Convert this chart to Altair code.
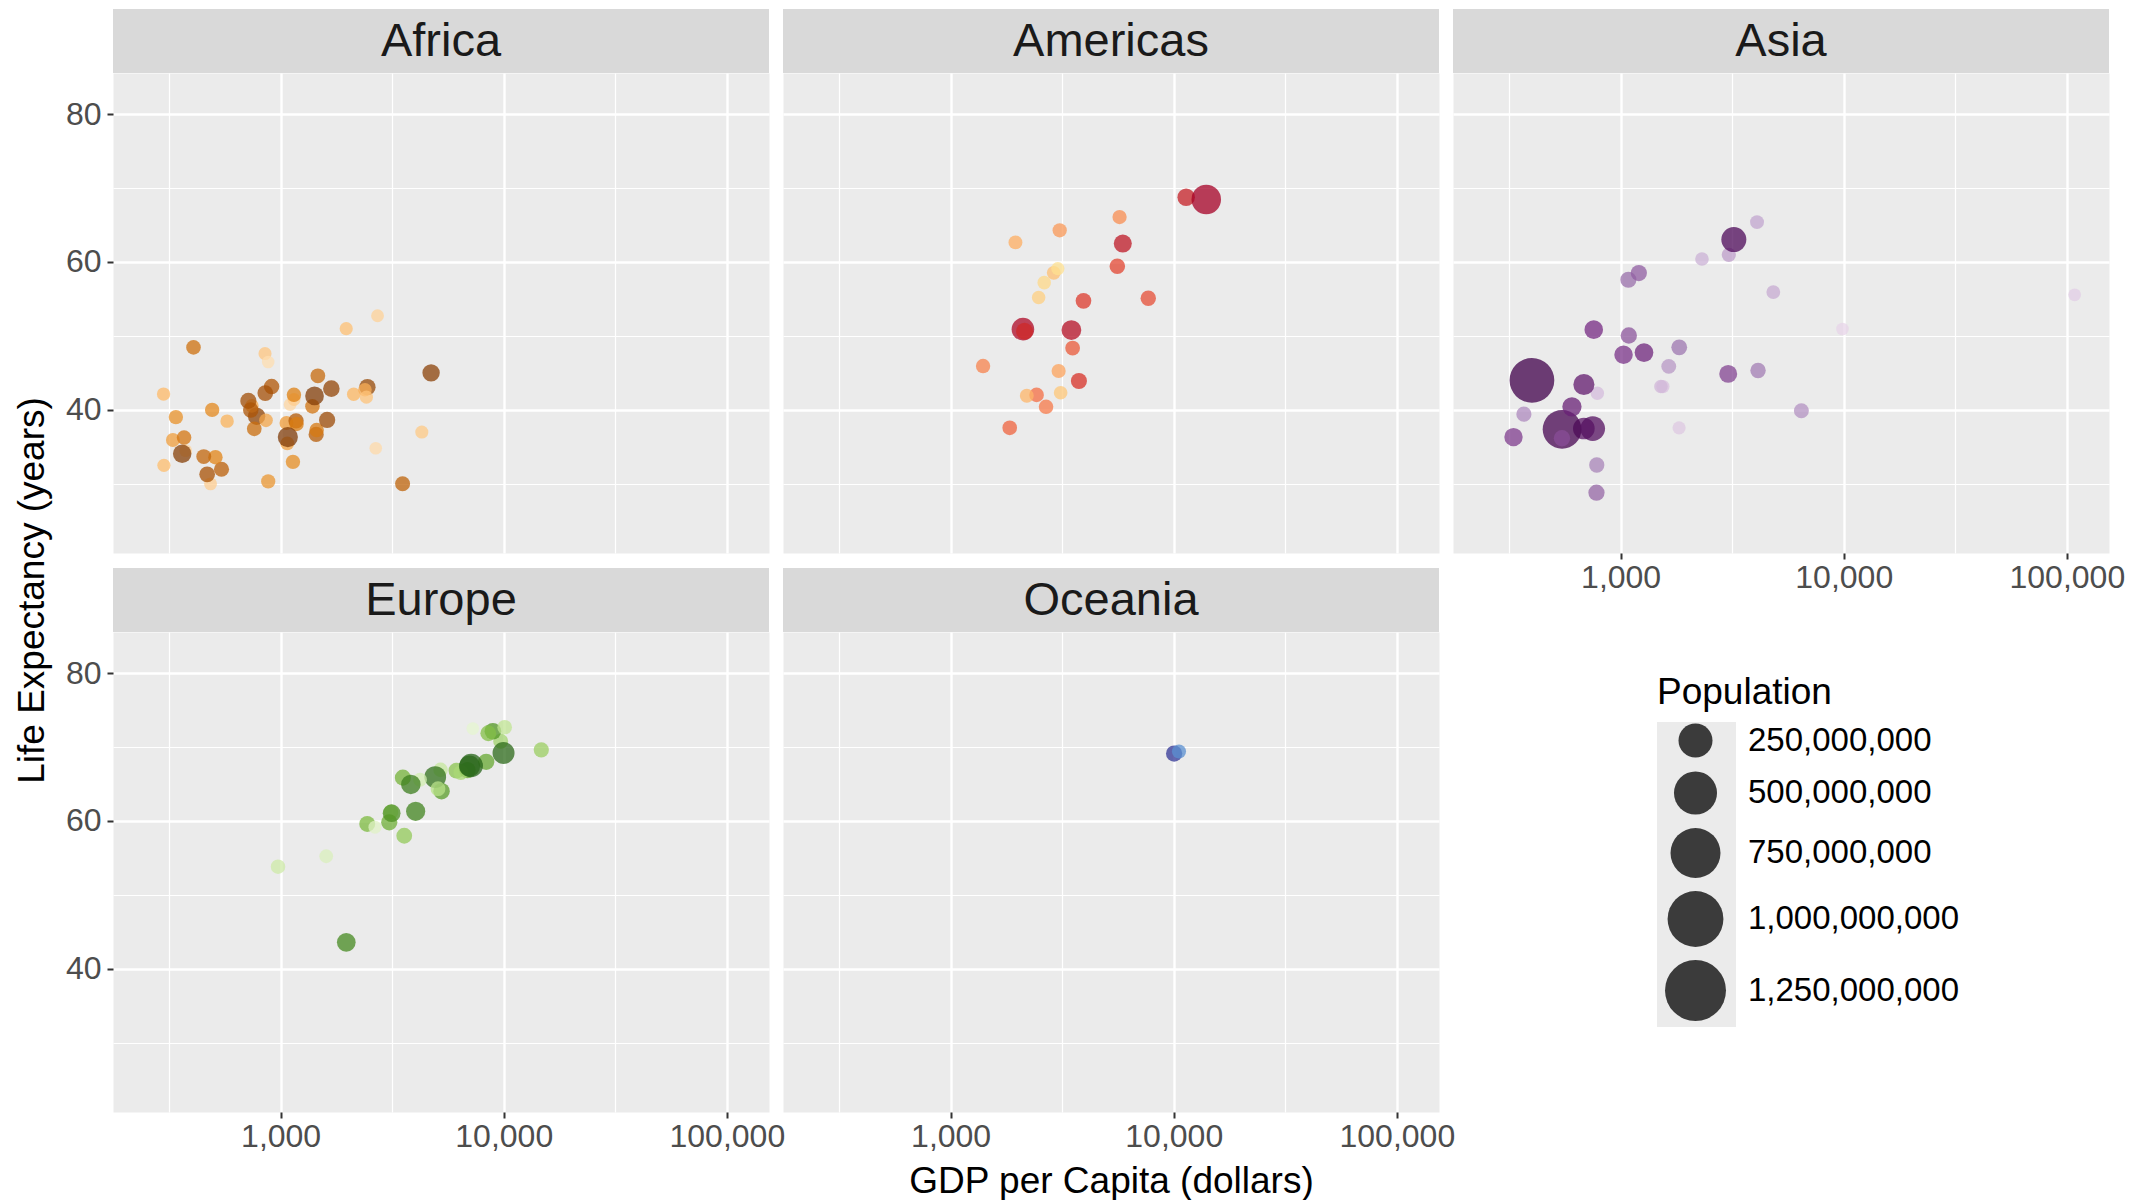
import altair as alt
import numpy as np
import pandas as pd

# ---------------- data: gapminder, 1952 ----------------
africa_country = ["Algeria", "Angola", "Benin", "Botswana", "Burkina Faso", "Burundi", "Cameroon",
                  "Central African Republic", "Chad", "Comoros", "Congo, Dem. Rep.", "Congo, Rep.",
                  "Cote d'Ivoire", "Djibouti", "Egypt", "Equatorial Guinea", "Eritrea", "Ethiopia", "Gabon",
                  "Gambia", "Ghana", "Guinea", "Guinea-Bissau", "Kenya", "Lesotho", "Liberia", "Libya",
                  "Madagascar", "Malawi", "Mali", "Mauritania", "Mauritius", "Morocco", "Mozambique", "Namibia",
                  "Niger", "Nigeria", "Reunion", "Rwanda", "Sao Tome and Principe", "Senegal", "Sierra Leone",
                  "Somalia", "South Africa", "Sudan", "Swaziland", "Tanzania", "Togo", "Tunisia", "Uganda",
                  "Zambia", "Zimbabwe"]
africa_life = [43.077, 30.015, 38.223, 47.622, 31.975, 39.031, 38.523, 35.463, 38.092, 40.715, 39.143, 42.111,
               40.477, 34.812, 41.893, 34.482, 35.928, 34.078, 37.003, 30.000, 43.149, 33.609, 32.500, 42.270,
               42.138, 38.480, 42.723, 36.681, 36.256, 33.685, 40.543, 50.986, 42.873, 31.286, 41.725, 37.444,
               36.324, 52.724, 40.000, 46.471, 37.278, 30.331, 32.978, 45.009, 38.635, 41.407, 41.215, 38.596,
               44.600, 39.978, 42.038, 48.451]
africa_pop = [9279525, 4232095, 1738315, 442308, 4469979, 2445618, 5009067, 1291695, 2682462, 153936, 14100005,
              854885, 2977019, 63149, 22223309, 216964, 1438760, 20860941, 420702, 284320, 5581001, 2664249,
              580653, 6464046, 748747, 863308, 1019729, 4762912, 2917802, 3838168, 1022556, 516556, 9939217,
              6446316, 485831, 3379468, 33119096, 257700, 2534927, 60011, 2755589, 2143249, 2526994, 14264935,
              8504667, 290243, 8322925, 1219113, 3647735, 5824797, 2672000, 3080907]
africa_gdp = [2449.0, 3520.6, 1062.8, 851.2, 543.3, 339.3, 1172.7, 1071.3, 1178.7, 1103.0, 780.5, 2125.6,
              1388.6, 2669.5, 1418.8, 375.6, 328.9, 362.1, 4293.5, 485.2, 911.3, 510.2, 299.9, 853.5, 298.8,
              575.6, 2387.5, 1443.0, 369.2, 452.3, 743.1, 1968.0, 1688.2, 468.5, 2423.8, 761.9, 1077.3, 2718.9,
              493.3, 879.6, 1450.4, 879.8, 1135.7, 4725.3, 1616.0, 1148.4, 716.7, 859.8, 1468.5, 734.8, 1147.4,
              406.9]

americas_country = ["Argentina", "Bolivia", "Brazil", "Canada", "Chile", "Colombia", "Costa Rica", "Cuba",
                    "Dominican Republic", "Ecuador", "El Salvador", "Guatemala", "Haiti", "Honduras", "Jamaica",
                    "Mexico", "Nicaragua", "Panama", "Paraguay", "Peru", "Puerto Rico", "Trinidad and Tobago",
                    "United States", "Uruguay", "Venezuela"]
americas_life = [62.485, 40.414, 50.917, 68.750, 54.745, 50.643, 57.206, 59.421, 45.928, 48.357, 45.262, 42.023,
                 37.579, 41.912, 58.530, 50.789, 42.314, 55.191, 62.649, 43.902, 64.280, 59.100, 68.440, 66.071,
                 55.088]
americas_pop = [17876956, 2883315, 56602560, 14785584, 6377619, 12350771, 926317, 6007797, 2491346, 3548753,
                2042865, 3146381, 3201488, 1517453, 1426095, 30144317, 1165790, 940080, 1555876, 8025700,
                2227000, 662850, 157553000, 2252965, 5439568]
americas_gdp = [5911.3, 2677.3, 2108.9, 11367.2, 3940.0, 2144.1, 2627.0, 5586.5, 1397.7, 3522.1, 3048.3, 2428.2,
                1840.4, 2194.9, 2898.5, 3478.1, 3112.4, 2480.4, 1952.3, 3758.5, 3082.0, 3023.3, 13990.5, 5716.8,
                7689.8]

asia_country = ["Afghanistan", "Bahrain", "Bangladesh", "Cambodia", "China", "Hong Kong, China", "India",
                "Indonesia", "Iran", "Iraq", "Israel", "Japan", "Jordan", "Korea, Dem. Rep.", "Korea, Rep.",
                "Kuwait", "Lebanon", "Malaysia", "Mongolia", "Myanmar", "Nepal", "Oman", "Pakistan",
                "Philippines", "Saudi Arabia", "Singapore", "Sri Lanka", "Syria", "Taiwan", "Thailand",
                "Vietnam", "West Bank and Gaza", "Yemen, Rep."]
asia_life = [28.801, 50.939, 37.484, 39.417, 44.000, 60.960, 37.373, 37.468, 44.869, 45.320, 65.390, 63.030,
             43.158, 50.056, 47.453, 55.565, 55.928, 48.463, 42.244, 36.319, 36.157, 37.578, 43.436, 47.752,
             39.875, 60.396, 57.593, 45.883, 58.500, 50.848, 40.412, 43.160, 32.548]
asia_pop = [8425333, 120447, 46886859, 4693836, 556263527, 2125900, 372000000, 82052000, 17272000, 5441766,
            1620914, 86459025, 607914, 8865488, 20947571, 160000, 1439529, 6748378, 800663, 20092996, 9182536,
            507833, 41346560, 22438691, 4005677, 1127000, 7982342, 3661549, 8550362, 21289402, 26246839,
            1030585, 4963829]
asia_gdp = [779.4, 9867.1, 684.2, 368.5, 400.4, 3054.4, 546.6, 749.7, 3035.3, 4129.8, 4086.5, 3217.0, 1546.9,
            1088.3, 1030.6, 108382.4, 4834.8, 1831.1, 786.6, 331.0, 545.9, 1828.2, 684.6, 1272.9, 6459.6,
            2315.1, 1083.5, 1643.5, 1206.9, 757.8, 605.1, 1515.6, 781.7]

europe_country = ["Albania", "Austria", "Belgium", "Bosnia and Herzegovina", "Bulgaria", "Croatia",
                  "Czech Republic", "Denmark", "Finland", "France", "Germany", "Greece", "Hungary", "Iceland",
                  "Ireland", "Italy", "Montenegro", "Netherlands", "Norway", "Poland", "Portugal", "Romania",
                  "Serbia", "Slovak Republic", "Slovenia", "Spain", "Sweden", "Switzerland", "Turkey",
                  "United Kingdom"]
europe_life = [55.23, 66.80, 68.00, 53.82, 59.60, 61.21, 66.87, 70.78, 66.55, 67.41, 67.50, 65.86, 64.03, 72.49,
               66.91, 65.94, 59.16, 72.13, 72.67, 61.31, 59.82, 61.05, 58.00, 64.36, 65.57, 64.94, 71.86, 69.62,
               43.59, 69.18]
europe_pop = [1282697, 6927772, 8730405, 2791000, 7274900, 3882229, 9125183, 4334000, 4090500, 42459667,
              69145952, 7733250, 9504000, 147962, 2952156, 47666000, 413834, 10381988, 3327728, 25730551,
              8526050, 16630000, 6860147, 3558137, 1489518, 28549870, 7124673, 4815000, 22235677, 50430000]
europe_gdp = [1601.1, 6137.1, 8343.1, 973.5, 2444.3, 3119.2, 6876.1, 9692.4, 6424.5, 7029.8, 7144.1, 3530.7,
              5263.7, 7267.7, 5210.3, 4931.4, 2647.6, 8941.6, 10095.4, 4029.3, 3068.3, 3144.6, 3581.5, 5074.7,
              4215.0, 3834.0, 8527.8, 14734.2, 1969.1, 9979.5]

oceania_country = ["Australia", "New Zealand"]
oceania_life = [69.12, 69.39]
oceania_pop = [8691212, 1994794]
oceania_gdp = [10039.6, 10556.6]

continents = ["Africa", "Americas", "Asia", "Europe", "Oceania"]
legend_pops = [250e6, 500e6, 750e6, 1e9, 1.25e9]
x_major = [1000, 10000, 100000]
x_minor = [316.2278, 3162.278, 31622.78]
y_major = [40, 60, 80]
y_minor = [30, 50, 70]

# ---------------- styling ----------------
palettes = {
    "Africa": ["#7F3B08", "#B35806", "#E08214", "#FDB863", "#FEDDB0"],
    "Americas": ["#A50026", "#D73027", "#F46D43", "#FDAE61", "#FEE090"],
    "Asia": ["#40004B", "#762A83", "#9970AB", "#C2A5CF", "#E7D4E8"],
    "Europe": ["#276419", "#4D9221", "#7FBC41", "#B8E186", "#E6F5D0"],
    "Oceania": ["#313695", "#5A8FD0"],
}
FONT = "Liberation Sans"
TICK_FS = 32
PW, PH, SH = 656, 480, 64
X_DOMAIN = [177.3, 154500]
Y_DOMAIN = [20.65, 85.55]
D0, DK, PMAX = 12.2, 50.1, 1318683096.0


def sym_size(p):
    # Vega symbol size = area of the bounding square = diameter^2
    d = D0 + DK * np.sqrt(np.asarray(p, dtype=float) / PMAX)
    return d ** 2


def ramp(stops, t):
    rgb = [tuple(int(h[i:i + 2], 16) for i in (1, 3, 5)) for h in stops]
    pos = t * (len(rgb) - 1)
    i = min(int(pos), len(rgb) - 2)
    f = pos - i
    c = tuple(rgb[i][k] + (rgb[i + 1][k] - rgb[i][k]) * f for k in range(3))
    return "#%02X%02X%02X" % tuple(int(round(v)) for v in c)


raw = {
    "Africa": (africa_country, africa_life, africa_pop, africa_gdp),
    "Americas": (americas_country, americas_life, americas_pop, americas_gdp),
    "Asia": (asia_country, asia_life, asia_pop, asia_gdp),
    "Europe": (europe_country, europe_life, europe_pop, europe_gdp),
    "Oceania": (oceania_country, oceania_life, oceania_pop, oceania_gdp),
}

frames = {}
for cont in continents:
    c, l, p, g = raw[cont]
    df = pd.DataFrame({"country": c, "lifeExp": l, "pop": p, "gdpPercap": g})
    rank = df["pop"].rank(ascending=False, method="first").astype(int) - 1
    n = len(df)
    df["color"] = [ramp(palettes[cont], r / (n - 1)) for r in rank]
    df["sz"] = sym_size(df["pop"])
    frames[cont] = df

legend_sizes = [float(v) for v in sym_size(legend_pops)]
label_expr = (f"format(round({PMAX}*pow((sqrt(datum.value)-{D0})/{DK},2)/1e6)*1e6, ',')")

x_test = " || ".join(f"datum.value == {v}" for v in x_major)
y_test = " || ".join(f"datum.value == {v}" for v in y_major)


def x_axis(show, title=None):
    kw = dict(
        values=sorted(x_major + x_minor), grid=True, gridColor="white",
        gridWidth={"condition": {"test": x_test, "value": 2.4}, "value": 1.2},
        domain=False, labels=show, ticks=show,
        tickOpacity={"condition": {"test": x_test, "value": 1}, "value": 0},
        tickColor="#333333", tickWidth=2, tickSize=6,
        labelExpr=f"({x_test}) ? format(datum.value, ',') : ''",
        labelFont=FONT, labelFontSize=TICK_FS, labelColor="#4D4D4D", labelPadding=3,
        labelFlush=False, labelOverlap=False,
    )
    if title:
        kw.update(title=title, titleFont=FONT, titleFontSize=37, titleFontWeight="normal",
                  titleColor="black", titleY=80, titleBaseline="alphabetic")
    else:
        kw.update(title=None)
    return alt.Axis(**kw)


def y_axis(show, title=None):
    kw = dict(
        values=sorted(y_major + y_minor), grid=True, gridColor="white",
        gridWidth={"condition": {"test": y_test, "value": 2.4}, "value": 1.2},
        domain=False, labels=show, ticks=show,
        tickOpacity={"condition": {"test": y_test, "value": 1}, "value": 0},
        tickColor="#333333", tickWidth=2, tickSize=6,
        labelExpr=f"({y_test}) ? format(datum.value, 'd') : ''",
        labelFont=FONT, labelFontSize=TICK_FS, labelColor="#4D4D4D", labelPadding=6,
        labelFlush=False, labelOverlap=False,
    )
    if title:
        kw.update(title=title, titleFont=FONT, titleFontSize=37, titleFontWeight="normal",
                  titleColor="black", titleX=-81, titleY=517, titleAngle=270,
                  titleAlign="center", titleBaseline="middle")
    else:
        kw.update(title=None)
    return alt.Axis(**kw)


size_legend = alt.Legend(
    values=legend_sizes, labelExpr=label_expr, orient="none", legendX=1544, legendY=602,
    titleFont=FONT, titleFontSize=37, titleFontWeight="normal", titleColor="black",
    titleBaseline="top", titlePadding=11, titleLimit=500,
    labelFont=FONT, labelFontSize=33, labelColor="black", labelOffset=22, labelLimit=500,
    symbolType="circle", symbolFillColor="black", symbolOpacity=0.75, symbolStrokeWidth=0,
    symbolOffset=8, rowPadding=13, padding=0,
)


def panel(cont, show_x, show_y, x_title=None, y_title=None):
    lab = pd.DataFrame({"label": [cont]})
    strip_bg = alt.Chart(lab).mark_rect(color="#D9D9D9", clip=False).encode(
        x=alt.value(0), x2=alt.value(PW), y=alt.value(-SH), y2=alt.value(0))
    strip_txt = alt.Chart(lab).mark_text(
        font=FONT, fontSize=47, color="#1A1A1A", baseline="middle", align="center", clip=False
    ).encode(text="label:N", x=alt.value(PW / 2), y=alt.value(-SH / 2 + 1))

    pts = alt.Chart(frames[cont]).mark_circle(opacity=0.75, clip=True).encode(
        x=alt.X("gdpPercap:Q", scale=alt.Scale(type="log", domain=X_DOMAIN, nice=False),
                axis=x_axis(show_x, x_title)),
        y=alt.Y("lifeExp:Q", scale=alt.Scale(domain=Y_DOMAIN, nice=False, zero=False),
                axis=y_axis(show_y, y_title)),
        size=alt.Size("sz:Q", title="Population",
                      scale=alt.Scale(type="linear", domain=[0, 5000], range=[0, 5000]),
                      legend=size_legend),
        color=alt.Color("color:N", scale=None),
    )
    return alt.layer(strip_bg, strip_txt, pts).properties(
        width=PW, height=PH, view=alt.ViewBackground(fill="#EBEBEB", stroke="transparent"))


cells = [
    panel("Africa", False, True, y_title="Life Expectancy (years)"),
    panel("Americas", False, False),
    panel("Asia", True, False),
    panel("Europe", True, True),
    panel("Oceania", True, False, x_title="GDP per Capita (dollars)"),
]

key_bg = alt.Chart(pd.DataFrame({"k": [0]})).mark_rect(color="#EBEBEB").encode(
    x=alt.value(204), x2=alt.value(283), y=alt.value(90), y2=alt.value(395)
).properties(width=PW, height=PH, view=alt.ViewBackground(fill="white", stroke="transparent"))
cells.append(key_bg)

chart = alt.concat(*cells, columns=3, spacing={"row": SH + 15, "column": 14}, bounds="flush").resolve_scale(
    size="shared").resolve_legend(size="shared").properties(
    padding={"left": 4, "top": 0, "right": 5, "bottom": 5},
    background="white",
).configure_view(stroke=None)

chart.save("out.html", embed_options={"renderer": "svg", "actions": False})
